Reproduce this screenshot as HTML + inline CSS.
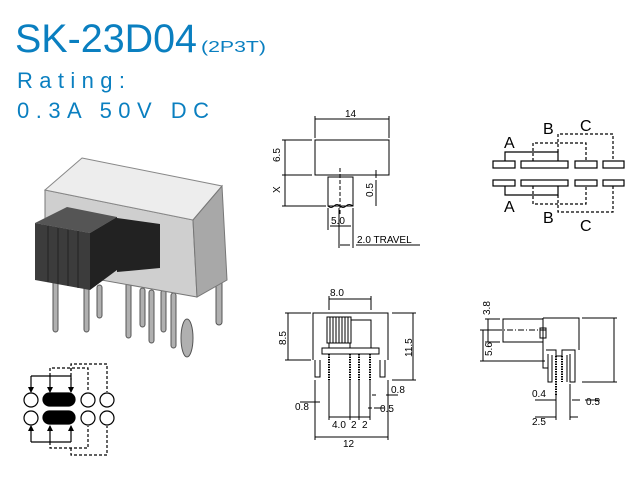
<!DOCTYPE html>
<html><head><style>
body{margin:0;background:#fff;width:640px;height:500px;overflow:hidden}
svg{display:block}
.t{font-family:"Liberation Sans",sans-serif;fill:#0a7fc0}
.d{font-family:"Liberation Sans",sans-serif;font-size:10px;fill:#000}
</style></head><body>
<svg width="640" height="500" viewBox="0 0 640 500" xmlns="http://www.w3.org/2000/svg">
<defs><marker id="a" viewBox="0 0 6 6" refX="5" refY="3" markerWidth="5" markerHeight="5" orient="auto"><path d="M0,0L6,3L0,6z" fill="#000"/></marker></defs>
<text class="t" x="15" y="52" font-size="40" textLength="182" lengthAdjust="spacingAndGlyphs">SK-23D04</text>
<text class="t" x="201" y="52" font-size="16" textLength="65" lengthAdjust="spacingAndGlyphs">(2P3T)</text>
<text class="t" x="17" y="88" font-size="22" textLength="108" lengthAdjust="spacing">Rating:</text>
<text class="t" x="17" y="118" font-size="22" textLength="192" lengthAdjust="spacing">0.3A 50V DC</text>

<!-- photo -->
<g>
<g stroke="#555" stroke-width="1" fill="#b0b0b0">
<rect x="53" y="280" width="5" height="52" rx="2.5"/><rect x="84" y="285" width="5" height="47" rx="2.5"/><rect x="97" y="285" width="5" height="33" rx="2.5"/>
<rect x="126" y="283" width="5" height="55" rx="2.5"/><rect x="140" y="288" width="5" height="39" rx="2.5"/><rect x="149" y="290" width="5" height="53" rx="2.5"/>
<rect x="161" y="290" width="5" height="42" rx="2.5"/><rect x="171" y="293" width="5" height="55" rx="2.5"/><rect x="216" y="275" width="6" height="50" rx="3"/>
<ellipse cx="187" cy="338" rx="6" ry="19"/>
</g>
<polygon points="45,190 193,220 197,297 45,270" fill="#cfcfcf" stroke="#777"/>
<polygon points="82,158 222,186 193,220 45,190" fill="#ededed" stroke="#888"/>
<polygon points="193,220 222,186 227,280 197,297" fill="#a8a8a8" stroke="#777"/>
<polygon points="117,218 160,224 160,268 117,272" fill="#222"/>
<polygon points="35,223 67,207 117,217 90,233" fill="#555"/>
<polygon points="35,223 90,233 90,290 35,280" fill="#3c3c3c"/>
<polygon points="90,233 117,217 117,270 90,290" fill="#222"/>
<g stroke="#222" stroke-width="1"><line x1="48" y1="226" x2="48" y2="282"/><line x1="58" y1="228" x2="58" y2="284"/><line x1="68" y1="230" x2="68" y2="286"/><line x1="78" y1="231" x2="78" y2="288"/></g>
</g>

<!-- bottom-left schematic -->
<g stroke="#000" stroke-width="1.2" fill="#fff">
<circle cx="31" cy="400" r="7"/><circle cx="88" cy="400" r="7"/><circle cx="107" cy="400" r="7"/>
<circle cx="31" cy="418" r="7"/><circle cx="88" cy="418" r="7"/><circle cx="107" cy="418" r="7"/>
<rect x="43" y="393" width="32" height="13" rx="6.5" fill="#000"/>
<rect x="43" y="411" width="32" height="13" rx="6.5" fill="#000"/>
<g fill="none">
<path d="M31,376H71"/><path d="M31,376V392" marker-end="url(#a)"/><path d="M50,376V392" marker-end="url(#a)"/><path d="M71,376V392" marker-end="url(#a)"/>
<path d="M31,442H71"/><path d="M31,442V426" marker-end="url(#a)"/><path d="M50,442V426" marker-end="url(#a)"/><path d="M71,442V426" marker-end="url(#a)"/>
<path d="M50,376V368H88V392M71,368V380" stroke-dasharray="3,2"/>
<path d="M71,371V364H107V392" stroke-dasharray="3,2"/>
<path d="M50,442V448H88V426" stroke-dasharray="3,2"/>
<path d="M71,448V455H107V426" stroke-dasharray="3,2"/>
</g></g>

<!-- top view drawing -->
<g stroke="#000" stroke-width="1" fill="none">
<rect x="315" y="140" width="74" height="35"/>
<rect x="328" y="177" width="25" height="29"/>
<path d="M328,206q3,3 6,0t6,0t6,0t7,0"/>
<line x1="340" y1="168" x2="340" y2="215" stroke-dasharray="4,2"/>
<path d="M315,138V116M389,138V116M315,119H389"/>
<path d="M282,140H312M282,175H312M282,206H326M285,140V206"/>
<path d="M376,170V178M376,180V206"/>
<path d="M328,208V230M353,208V248M339,208V248M330,226H351"/>
<path d="M340,245H350M356,245H420"/>
</g>
<text class="d" x="345" y="117">14</text>
<text class="d" transform="translate(280,162) rotate(-90)">6.5</text>
<text class="d" transform="translate(280,193) rotate(-90)">X</text>
<text class="d" transform="translate(373,197) rotate(-90)">0.5</text>
<text class="d" x="331" y="224">5.0</text>
<text class="d" x="357" y="243">2.0 TRAVEL</text>

<!-- top-right schematic -->
<g stroke="#000" stroke-width="1.2" fill="none">
<rect x="493" y="161" width="22" height="7"/><rect x="521" y="161" width="47" height="7"/><rect x="575" y="161" width="22" height="7"/><rect x="603" y="161" width="21" height="7"/>
<rect x="493" y="180" width="22" height="6"/><rect x="521" y="180" width="47" height="6"/><rect x="575" y="180" width="22" height="6"/><rect x="603" y="180" width="21" height="6"/>
<path d="M505,161V152H558V161"/>
<path d="M505,186V195H558V186"/>
<path d="M533,161V143H586V161" stroke-dasharray="3,2"/>
<path d="M558,152V134H613V161" stroke-dasharray="3,2"/>
<path d="M533,186V204H586V186" stroke-dasharray="3,2"/>
<path d="M558,195V212H613V186" stroke-dasharray="3,2"/>
</g>
<g font-family="Liberation Sans,sans-serif" font-size="16" fill="#000">
<text x="504" y="148">A</text><text x="543" y="134">B</text><text x="580" y="131">C</text>
<text x="504" y="212">A</text><text x="543" y="223">B</text><text x="580" y="231">C</text>
</g>

<!-- front view -->
<g stroke="#000" stroke-width="1" fill="none">
<path d="M313,360V313H388V360"/>
<rect x="327" y="317" width="24" height="26" fill="#fff"/>
<path d="M330,317V343M333,317V343M336,317V343M339,317V343M342,317V343M345,317V343M348,317V343"/>
<path d="M329,343V348H350V343M351,320H371V348"/>
<rect x="322" y="348" width="57" height="6"/>
<path d="M315,360V377H320V360M385,360V377H380V360"/>
<path d="M329,354V380M350,354V380M359,354V380M370,354V380" stroke-width="2" stroke-dasharray="1.5,1"/>
<path d="M329,296V310M371,296V310M329,299H371"/>
<path d="M285,313H311M285,360H311M288,313V360"/>
<path d="M392,313H416M392,380H416M413,313V380"/>
<path d="M315,380V440M329,380V420M350,380V420M359,380V420M370,380V420M388,380V440M329,417H370M315,437H388"/>
<path d="M320,402H308M314,402H300M386,395H398M372,395H376M368,408H372M374,408H384"/>
</g>
<text class="d" x="330" y="296">8.0</text>
<text class="d" transform="translate(286,345) rotate(-90)">8.5</text>
<text class="d" transform="translate(412,357) rotate(-90)" font-size="11">11.5</text>
<text class="d" x="391" y="393">0.8</text>
<text class="d" x="295" y="410">0.8</text>
<text class="d" x="380" y="412">0.5</text>
<text class="d" x="332" y="428">4.0</text><text class="d" x="351" y="428">2</text><text class="d" x="362" y="428">2</text>
<text class="d" x="343" y="447">12</text>

<!-- side view -->
<g stroke="#000" stroke-width="1" fill="none">
<rect x="503" y="319" width="40" height="23"/>
<path d="M543,318H579V350M543,318V368H548V354"/>
<rect x="540" y="328" width="6" height="10"/>
<path d="M546,350H556V356H562V350H575V382H570V354"/>
<path d="M548,368V382H552V355M567,355V382"/>
<path d="M556,356V395M562,356V382" stroke-width="2" stroke-dasharray="1.5,1"/>
<line x1="485" y1="330" x2="548" y2="330" stroke-dasharray="6,2,1,2"/>
<path d="M485,319H500M485,342H500M488,319V342M480,330H500M480,361H545M483,330V361"/>
<path d="M582,318H617M582,382H617M614,318V382"/>
<path d="M556,395V420M570,384V420M535,400H556M572,400H580M585,400H600M535,417H556M570,417H578"/>
</g>
<text class="d" transform="translate(490,315) rotate(-90)">3.8</text>
<text class="d" transform="translate(492,356) rotate(-90)">5.6</text>
<text class="d" x="532" y="397">0.4</text>
<text class="d" x="586" y="405">0.5</text>
<text class="d" x="532" y="425">2.5</text>
</svg>
</body></html>
